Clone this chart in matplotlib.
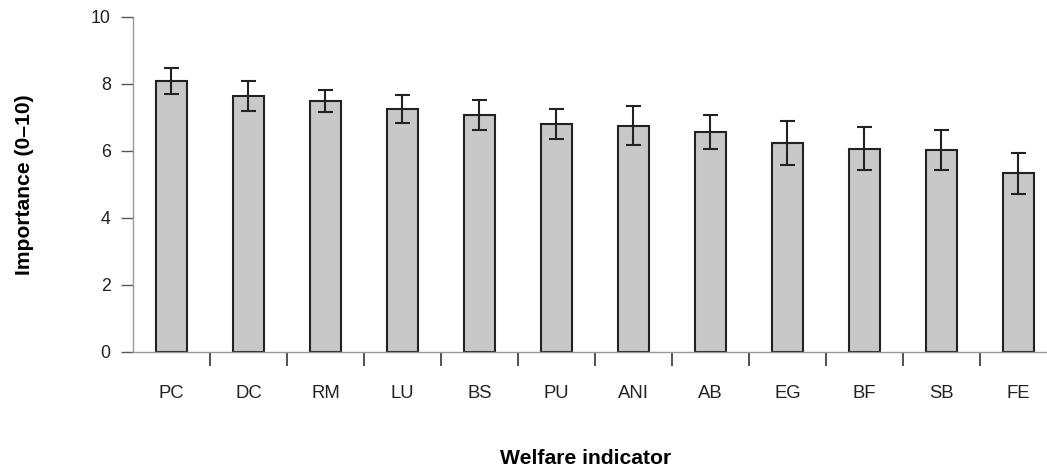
import matplotlib
matplotlib.use("Agg")
import matplotlib.pyplot as plt
import numpy as np

plt.rcParams['font.family'] = ['Liberation Sans', 'DejaVu Sans']

indicadores = ['PC', 'DC', 'RM', 'LU', 'BS', 'PU', 'ANI', 'AB', 'EG', 'BF', 'SB', 'FE']
importancia = [8.09, 7.64, 7.49, 7.25, 7.08, 6.80, 6.75, 6.57, 6.24, 6.07, 6.02, 5.34]
error = [0.40, 0.45, 0.34, 0.42, 0.45, 0.45, 0.58, 0.50, 0.66, 0.65, 0.60, 0.61]
y_ticks = [0, 2, 4, 6, 8, 10]

fig = plt.figure(figsize=(10.47, 4.69), dpi=100)
ax = fig.add_axes([0.127, 0.2495, 0.8825, 0.7143])

x = np.arange(len(indicadores))
ax.bar(x, importancia, width=0.4, color='#c8c8c8', edgecolor='#222222', linewidth=1.5,
       yerr=error, error_kw=dict(ecolor='#222222', elinewidth=1.5, capsize=5.4, capthick=1.5),
       zorder=2)

ax.set_xlim(-0.5, len(indicadores) - 0.5)
ax.set_ylim(0, 10)
ax.set_yticks(y_ticks)

# marcas del eje x entre categorias, etiquetas centradas
ax.set_xticks(x[:-1] + 0.5)
ax.set_xticklabels([])
ax.set_xticks(x, minor=True)
ax.set_xticklabels(indicadores, minor=True, fontsize=13.3, color='#222222')
ax.tick_params(axis='x', which='major', direction='out', length=10, width=1.2, color='#333333')
ax.tick_params(axis='x', which='minor', length=0, pad=24)
ax.tick_params(axis='y', direction='out', length=9, width=1.0, color='#555555',
               labelsize=12.8, labelcolor='#222222', pad=7)

for lado in ['top', 'right']:
    ax.spines[lado].set_visible(False)
for lado in ['left', 'bottom']:
    ax.spines[lado].set_color('#999999')
    ax.spines[lado].set_linewidth(1.0)

ax.set_ylabel('Importance (0–10)', fontsize=15.2, fontweight='bold', labelpad=41)
fig.text(586 / 1047, 1 - 458 / 469, 'Welfare indicator', fontsize=15.2, fontweight='bold',
         ha='center', va='center')

fig.savefig('out.png', dpi=100)
